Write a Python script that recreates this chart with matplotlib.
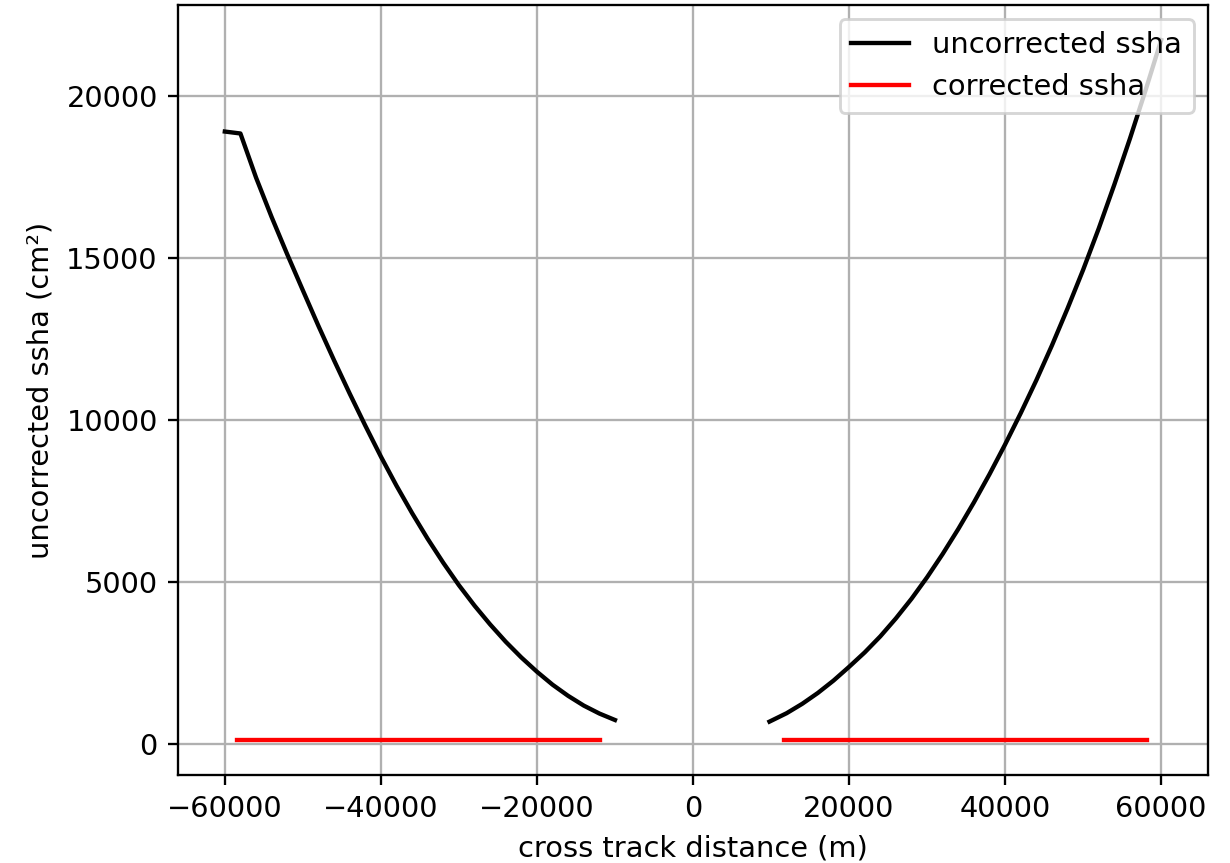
import numpy as np
import matplotlib
matplotlib.use('Agg')
import matplotlib.pyplot as plt

# uncorrected ssha, every 2 km (left and right swath)
x_left = [-60000, -58000, -56000, -54000, -52000, -50000, -48000, -46000,
          -44000, -42000, -40000, -38000, -36000, -34000, -32000, -30000,
          -28000, -26000, -24000, -22000, -20000, -18000, -16000, -14000,
          -12000, -10000]
y_left = [18900, 18840, 17480, 16260, 15110, 14000, 12900, 11840,
          10815, 9825, 8870, 7970, 7125, 6330, 5590, 4900,
          4270, 3690, 3155, 2670, 2230, 1830, 1485, 1185,
          940, 740]

x_right = [9800, 12000, 14000, 16000, 18000, 20000, 22000, 24000, 26000,
           28000, 30000, 32000, 34000, 36000, 38000, 40000, 42000, 44000,
           46000, 48000, 50000, 52000, 54000, 56000, 58000, 60000]
y_right = [690, 950, 1240, 1575, 1955, 2380, 2825, 3320, 3875,
           4480, 5145, 5865, 6635, 7455, 8325, 9245, 10210, 11225,
           12300, 13440, 14635, 15910, 17265, 18685, 20175, 21725]

# corrected ssha (flat)
xc_left = [-58390, -11900]
yc_left = [123, 123]
xc_right = [11650, 58130]
yc_right = [123, 123]

dpi = 208
fig = plt.figure(figsize=(1230 / dpi, 863 / dpi), dpi=dpi)
ax = fig.add_axes([178 / 1230, (863 - 775) / 863, 1030 / 1230, 770 / 863])

ax.plot(x_left, y_left, color='black', label='uncorrected ssha')
ax.plot(x_right, y_right, color='black')
ax.plot(xc_left, yc_left, color='red', label='corrected ssha')
ax.plot(xc_right, yc_right, color='red')

ax.set_xlabel('cross track distance (m)')
ax.set_ylabel('uncorrected ssha (cm²)')
ax.set_xticks([-60000, -40000, -20000, 0, 20000, 40000, 60000])
ax.set_yticks([0, 5000, 10000, 15000, 20000])
ax.grid(True)
ax.legend(loc='upper right')

fig.savefig('out.png', dpi=dpi)
